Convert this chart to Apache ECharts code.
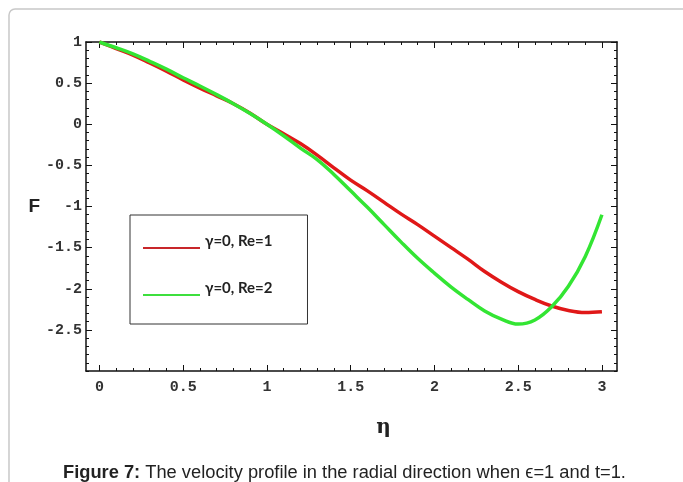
<!DOCTYPE html>
<html>
<head>
<meta charset="utf-8">
<script src="https://cdn.jsdelivr.net/npm/echarts@6/dist/echarts.min.js"></script>
<style>
  html, body { margin: 0; padding: 0; background: #fff; }
  #chart { width: 683px; height: 482px; }
</style>
</head>
<body>
<div id="chart"></div>
<script>
// eta sample positions
const eta = [0, 0.1, 0.2, 0.3, 0.4, 0.5, 0.6, 0.7, 0.8, 0.9, 1.0,
             1.1, 1.2, 1.3, 1.4, 1.5, 1.6, 1.7, 1.8, 1.9, 2.0,
             2.1, 2.2, 2.3, 2.4, 2.5, 2.6, 2.7, 2.8, 2.9, 3.0];

// F(eta) for gamma = 0, Re = 1
const fRe1 = [1.0, 0.92, 0.84, 0.745, 0.645, 0.54, 0.44, 0.345, 0.25, 0.135, 0.0,
              -0.115, -0.235, -0.375, -0.53, -0.68, -0.81, -0.95, -1.09, -1.22, -1.36,
              -1.5, -1.64, -1.79, -1.92, -2.035, -2.13, -2.21, -2.265, -2.29, -2.28];

// F(eta) for gamma = 0, Re = 2
const fRe2 = [1.0, 0.93, 0.855, 0.765, 0.67, 0.565, 0.465, 0.36, 0.25, 0.13, 0.0,
              -0.14, -0.29, -0.43, -0.61, -0.81, -1.01, -1.22, -1.43, -1.63, -1.81,
              -1.98, -2.13, -2.27, -2.37, -2.43, -2.38, -2.22, -1.97, -1.61, -1.1];

const seriesNames = ['γ=0, Re=1', 'γ=0, Re=2'];

// tick positions
const xMajor = [0, 0.5, 1, 1.5, 2, 2.5, 3];
const yMajor = [-2.5, -2, -1.5, -1, -0.5, 0, 0.5, 1];
const xMinor = [0, 0.1, 0.2, 0.3, 0.4, 0.5, 0.6, 0.7, 0.8, 0.9, 1, 1.1, 1.2, 1.3, 1.4, 1.5,
                1.6, 1.7, 1.8, 1.9, 2, 2.1, 2.2, 2.3, 2.4, 2.5, 2.6, 2.7, 2.8, 2.9, 3];
const yMinor = [-3, -2.9, -2.8, -2.7, -2.6, -2.5, -2.4, -2.3, -2.2, -2.1, -2, -1.9, -1.8, -1.7,
                -1.6, -1.5, -1.4, -1.3, -1.2, -1.1, -1, -0.9, -0.8, -0.7, -0.6, -0.5, -0.4,
                -0.3, -0.2, -0.1, 0, 0.1, 0.2, 0.3, 0.4, 0.5, 0.6, 0.7, 0.8, 0.9, 1];

const X_MIN = -0.08, X_MAX = 3.09, Y_MIN = -3, Y_MAX = 1;

const chart = echarts.init(document.getElementById('chart'), null, { renderer: 'canvas' });

const gridBox = { left: 86, top: 42, right: 66, bottom: 111 };
const tickFont = { fontFamily: 'Liberation Mono', fontSize: 15, fontWeight: 'bold', color: '#333' };

function axisLineFor(grid) {
  return grid === 0
    ? { show: true, onZero: false, lineStyle: { color: '#111', width: 1.5 } }
    : { show: false, onZero: false };
}

function xAxisDef(grid, pos, ticks, len, withLabels) {
  return {
    type: 'value', gridIndex: grid, position: pos, min: X_MIN, max: X_MAX,
    axisLine: axisLineFor(grid),
    axisTick: { show: true, inside: true, length: len, customValues: ticks,
                lineStyle: { color: '#111', width: 1 } },
    axisLabel: withLabels
      ? Object.assign({ show: true, customValues: xMajor, margin: 9 }, tickFont)
      : { show: false },
    splitLine: { show: false }
  };
}
function yAxisDef(grid, pos, ticks, len, withLabels) {
  return {
    type: 'value', gridIndex: grid, position: pos, min: Y_MIN, max: Y_MAX,
    axisLine: axisLineFor(grid),
    axisTick: { show: true, inside: true, length: len, customValues: ticks,
                lineStyle: { color: '#111', width: 1 } },
    axisLabel: withLabels
      ? Object.assign({ show: true, customValues: yMajor, margin: 4 }, tickFont)
      : { show: false },
    splitLine: { show: false }
  };
}

const xMain = xAxisDef(0, 'bottom', xMajor, 6, true);
xMain.name = 'η';
xMain.nameLocation = 'middle';
xMain.nameGap = 47;
xMain.nameTextStyle = { fontFamily: 'DejaVu Serif', fontWeight: 'bold', fontSize: 20, color: '#222',
                        padding: [0, 0, 0, 64] };

const yMain = yAxisDef(0, 'left', yMajor, 6, true);
yMain.name = 'F';
yMain.nameLocation = 'middle';
yMain.nameRotate = 0;
yMain.nameGap = 44;
yMain.nameTextStyle = { fontFamily: 'Liberation Sans', fontWeight: 'bold', fontSize: 19, color: '#222' };

const legendFont = { fontFamily: 'Lato', fontWeight: 'bold', fontSize: 15, color: '#222' };

chart.setOption({
  backgroundColor: '#fff',
  animation: false,
  grid: [Object.assign({}, gridBox), Object.assign({}, gridBox)],
  xAxis: [
    xMain,
    xAxisDef(0, 'top', xMajor, 6, false),
    xAxisDef(1, 'bottom', xMinor, 3, false),
    xAxisDef(1, 'top', xMinor, 3, false)
  ],
  yAxis: [
    yMain,
    yAxisDef(0, 'right', yMajor, 6, false),
    yAxisDef(1, 'left', yMinor, 3, false),
    yAxisDef(1, 'right', yMinor, 3, false)
  ],
  legend: {
    left: 130, top: 215, orient: 'vertical',
    backgroundColor: '#fff', borderColor: '#333', borderWidth: 1,
    padding: [19, 35, 28, 13],
    itemWidth: 57, itemHeight: 2, itemGap: 32,
    itemTextGap: 3,
    icon: 'rect',
    formatter: '{t|{name}}',
    textStyle: Object.assign({
      rich: { t: Object.assign({ padding: [0, 0, 13, 0] }, legendFont) }
    }, legendFont),
    data: [
      { name: seriesNames[0], itemStyle: { color: '#c8262a' } },
      { name: seriesNames[1], itemStyle: { color: '#3ddf3d' } }
    ]
  },
  title: {
    text: '{b|Figure 7:} The velocity profile in the radial direction when ϵ=1 and t=1.',
    left: 58, top: 459,
    textStyle: {
      fontFamily: 'Liberation Sans', fontSize: 18.3, fontWeight: 'normal', color: '#222',
      rich: { b: { fontFamily: 'Liberation Sans', fontSize: 18.3, fontWeight: 'bold', color: '#222' } }
    }
  },
  graphic: [{
    type: 'rect', z: -10, silent: true,
    shape: { x: 9, y: 9, width: 690, height: 500, r: 6 },
    style: { fill: 'none', stroke: '#c8c8c8', lineWidth: 1.5 }
  }],
  series: [
    {
      name: seriesNames[0], type: 'line', xAxisIndex: 0, yAxisIndex: 0,
      data: eta.map((x, i) => [x, fRe1[i]]),
      smooth: 0.4, showSymbol: false,
      lineStyle: { color: '#e01818', width: 3.5 }, itemStyle: { color: '#e01818' },
      z: 3
    },
    {
      name: seriesNames[1], type: 'line', xAxisIndex: 0, yAxisIndex: 0,
      data: eta.map((x, i) => [x, fRe2[i]]),
      smooth: 0.4, showSymbol: false,
      lineStyle: { color: '#33e533', width: 3.5 }, itemStyle: { color: '#33e533' },
      z: 4
    }
  ]
});
</script>
</body>
</html>
